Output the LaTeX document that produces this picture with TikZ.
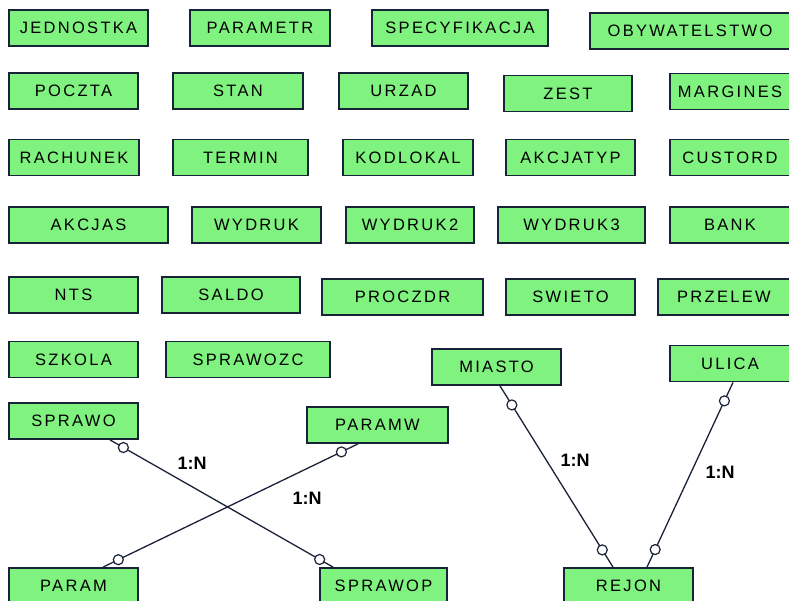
\documentclass[tikz,border=0pt]{standalone}
\usepackage{fontspec}
\setmainfont{Liberation Sans}[LetterSpace=14]
\definecolor{tabgreen}{RGB}{128,242,128}
\definecolor{tabline}{RGB}{25,35,55}
\tikzset{
  tab/.style={draw=tabline, line width=1.8pt, fill=tabgreen, minimum height=36pt,
    inner sep=0pt, font=\fontsize{16.5}{16.5}\selectfont},
  rel/.style={draw=tabline, line width=1.3pt},
  opt/.style={circle, draw=tabline, fill=white, line width=1.2pt, minimum size=10pt, inner sep=0pt},
  card/.style={font=\bfseries\fontsize{18}{18}\selectfont\addfontfeature{LetterSpace=0}}
}
\begin{document}
\begin{tikzpicture}[x=1pt,y=-1pt]
\useasboundingbox (0,0) rectangle (789,601);
\clip (0,0) rectangle (789,601);
\fill[white] (0,0) rectangle (789,601);

\foreach \nm/\cx/\cy/\w in {JEDNOSTKA/78.5/28/139, PARAMETR/260/28/140,
    SPECYFIKACJA/460/28/176, OBYWATELSTWO/690/31/200,
    POCZTA/73.5/91/129, STAN/238/91/130, URZAD/403.5/91/129,
    ZEST/568/93.5/128, MARGINES/730/91.5/120,
    RACHUNEK/74/157.5/130, TERMIN/240.5/157.5/135, KODLOKAL/408/157.5/130,
    AKCJATYP/570.5/157.5/129, CUSTORD/730/157.5/120,
    AKCJAS/88.5/225/159, WYDRUK/256.5/225/129, WYDRUK2/410/225/128,
    WYDRUK3/571.5/225/147, BANK/730/225/120,
    NTS/73.5/295/129, SALDO/231/295/138, PROCZDR/402.5/297/161,
    SWIETO/570.5/297/129, PRZELEW/724/297/132,
    SZKOLA/73.5/359.5/129, SPRAWOZC/248/359.5/164,
    MIASTO/496.5/367/129, ULICA/730/363.5/120,
    SPRAWO/73.5/421/129, PARAMW/377.5/425/141,
    PARAM/73.5/586/129, SPRAWOP/383.5/586/127, REJON/628.5/586/129} {
  \node[tab, minimum width=\w] (\nm) at (\cx,\cy) {\nm};
}

\draw[rel] ([xshift=36.5]SPRAWO.south) -- ([xshift=-50.5]SPRAWOP.north)
  node[opt, pos=.06] {} node[opt, pos=.94] {};
\draw[rel] ([xshift=-19.5]PARAMW.south) -- ([xshift=29.5]PARAM.north)
  node[opt, pos=.065] {} node[opt, pos=.94] {};
\draw[rel] ([xshift=3.5]MIASTO.south) -- ([xshift=-15.5]REJON.north)
  node[opt, pos=.105] {} node[opt, pos=.905] {};
\draw[rel] ([xshift=3]ULICA.south) -- ([xshift=18.5]REJON.north)
  node[opt, pos=.1] {} node[opt, pos=.905] {};

\node[card] (c1) at (192,463) {1:N};
\node[card] (c2) at (307,498) {1:N};
\node[card] (c3) at (575,460) {1:N};
\node[card] (c4) at (720,472) {1:N};
\end{tikzpicture}
\end{document}
